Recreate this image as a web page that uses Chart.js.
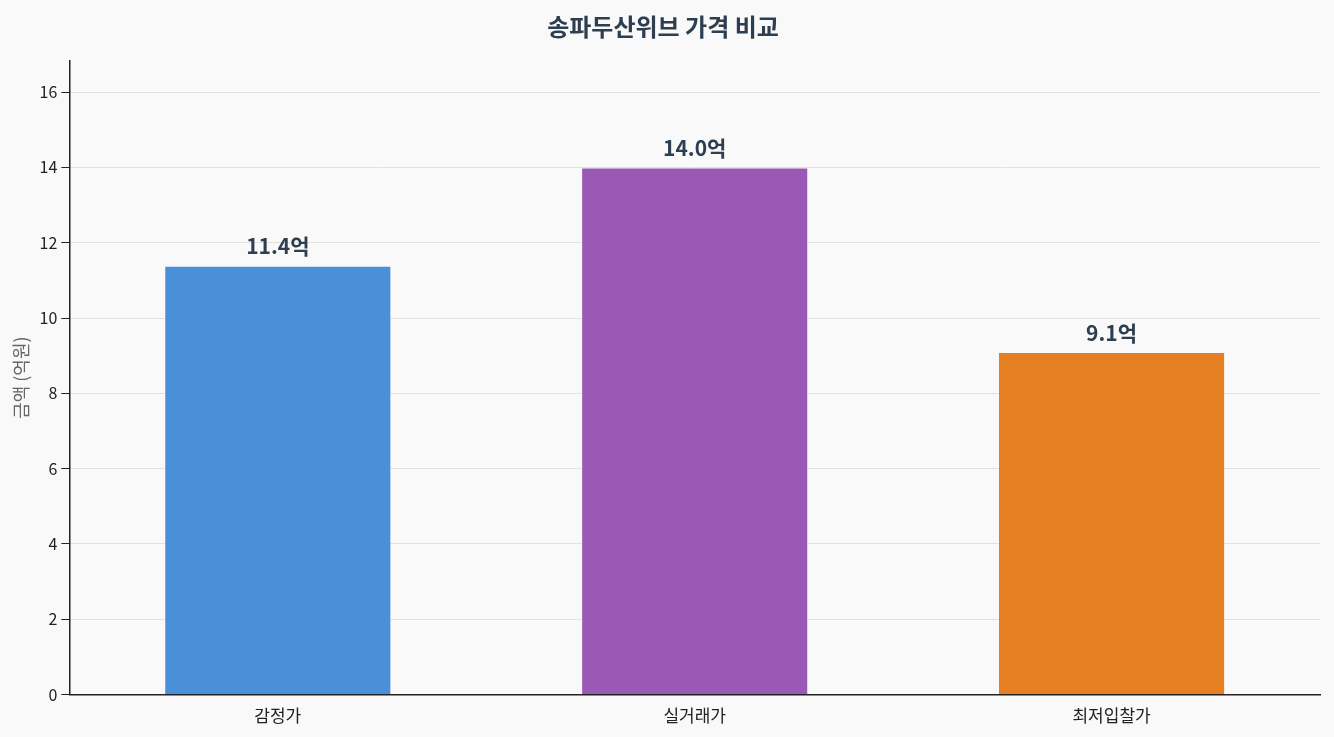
<!DOCTYPE html>
<html><head><meta charset="utf-8">
<script src="https://cdn.jsdelivr.net/npm/chart.js@4/dist/chart.umd.min.js"></script>
<style>html,body{margin:0;background:#f9f9f9;}#w{width:1334px;height:737px;}</style>
</head><body><div id="w"><canvas id="c"></canvas></div>
<script>
const categories = ['감정가', '실거래가', '최저입찰가'];
const values = [11.36, 13.97, 9.07];
const valueLabels = ['11.4억', '14.0억', '9.1억'];
const colors = ['#4a90d9', '#9b59b6', '#e67e22'];
const F = "'Noto Sans CJK KR','Noto Sans',sans-serif";
const labelPlugin = {
  id: 'vl',
  afterDatasetsDraw(chart) {
    const ctx = chart.ctx;
    const meta = chart.getDatasetMeta(0);
    ctx.save();
    ctx.font = 'bold 21px ' + F;
    ctx.fillStyle = '#2c3e50';
    ctx.textAlign = 'center';
    ctx.textBaseline = 'bottom';
    meta.data.forEach((b, i) => ctx.fillText(valueLabels[i], b.x, b.y - 10));
    ctx.restore();
  }
};
new Chart(document.getElementById('c'), {
  type: 'bar',
  data: { labels: categories, datasets: [{ data: values, backgroundColor: colors, categoryPercentage: 1, barPercentage: 0.54 }] },
  options: {
    responsive: true, maintainAspectRatio: false, animation: false,
    layout: { padding: { left: 6, right: 14, top: 4, bottom: 8 } },
    plugins: {
      legend: { display: false }, tooltip: { enabled: false },
      title: { display: true, text: '송파두산위브 가격 비교', color: '#2c3e50', font: { family: F, size: 24, weight: 'bold' }, padding: { top: 8, bottom: 20 } }
    },
    scales: {
      x: { grid: { display: false }, border: { color: '#222', width: 1.5 }, ticks: { color: '#222', font: { family: F, size: 17 } } },
      y: { min: 0, max: 16.83, afterBuildTicks(s) { s.ticks = [0,2,4,6,8,10,12,14,16].map(v => ({ value: v })); },
        grid: { color: '#e2e2e2', borderDash: [6, 4], tickLength: 8, tickColor: '#222' },
        border: { color: '#222', width: 1.5, dash: [] },
        ticks: { color: '#222', font: { family: F, size: 16 }, padding: 4 },
        title: { display: true, text: '금액 (억원)', color: '#666', font: { family: F, size: 18 } } }
    }
  },
  plugins: [labelPlugin]
});
</script></body></html>
